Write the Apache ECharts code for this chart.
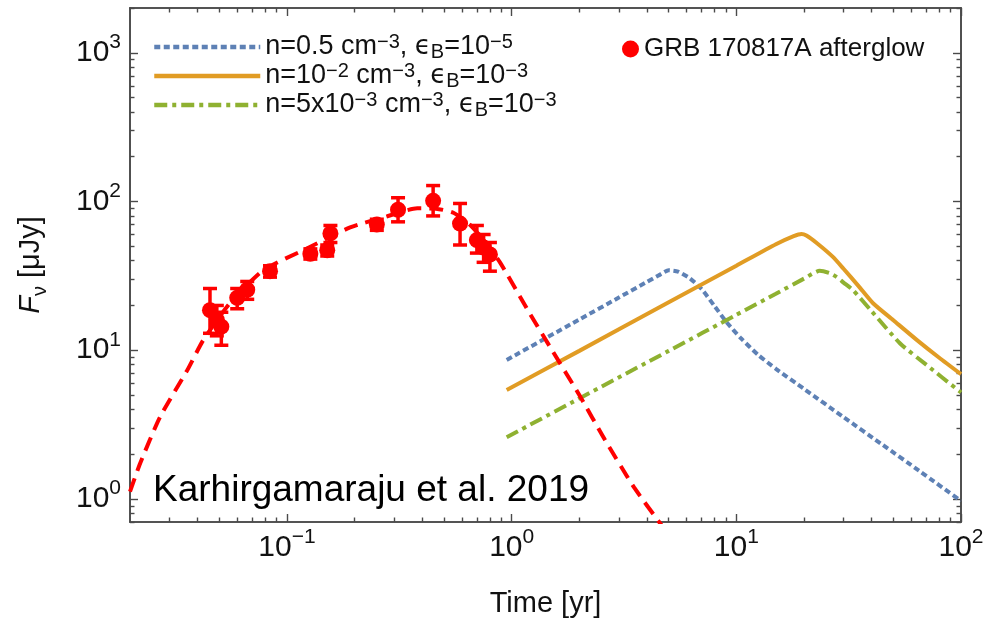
<!DOCTYPE html>
<html><head><meta charset="utf-8">
<script src="https://cdn.jsdelivr.net/npm/echarts@6/dist/echarts.min.js"></script>
<style>html,body{margin:0;padding:0;background:#fff}#c{width:997px;height:621px}</style>
</head><body><div id="c"></div>
<script>
// ---------------- data ----------------
// axis ranges (years, microJansky)
const xRange = [0.02, 100];
const yRange = [0.7, 2000];
// tick positions and labels (exponents of 10)
const xMajorTicks = [0.1, 1, 10, 100];
const xTickExponents = [-1, 0, 1, 2];
const yMajorTicks = [1, 10, 100, 1000];
const yTickExponents = [0, 1, 2, 3];
const xMinorTicks = [0.03,0.04,0.05,0.06,0.07,0.08,0.09,0.2,0.3,0.4,0.5,0.6,0.7,0.8,0.9,2,3,4,5,6,7,8,9,20,30,40,50,60,70,80,90];
const yMinorTicks = [0.7,0.8,0.9,2,3,4,5,6,7,8,9,20,30,40,50,60,70,80,90,200,300,400,500,600,700,800,900,2000];

// series names
const seriesNames = ['n=0.5 cm-3, eB=1e-5', 'n=1e-2 cm-3, eB=1e-3', 'n=5e-3 cm-3, eB=1e-3', 'GRB 170817A afterglow'];

// GRB 170817A model fit (red dashed)
const fitT = [0.02, 0.0222, 0.0272, 0.0359, 0.0424, 0.0558, 0.0783, 0.118, 0.191, 0.268, 0.38, 0.46, 0.55, 0.65, 0.75, 0.887, 1.17, 1.5, 2.0, 2.6, 3.5, 4.7];
const fitF = [1.12, 1.74, 3.55, 7.3, 11.7, 20.8, 34.5, 47, 67, 78, 90, 89.5, 84, 70, 55, 39, 19, 10.2, 5.0, 2.5, 1.2, 0.65];

// n = 0.5 cm^-3, eps_B = 1e-5 (blue dotted)
const blueT = [0.95, 2, 3, 4, 4.5, 5.0, 5.5, 6.2, 7, 8, 9, 10.5, 12.5, 15, 20, 30, 45, 65, 100];
const blueF = [8.6, 16.1, 22.6, 28.8, 31.8, 34.5, 33.8, 30.5, 25.8, 19.8, 15.6, 12.0, 9.3, 7.5, 5.5, 3.55, 2.3, 1.55, 0.97];

// n = 1e-2 cm^-3, eps_B = 1e-3 (orange solid)
const orangeT = [0.95, 2, 5, 10, 15, 18, 19.5, 20.5, 23, 26.9, 30, 35, 40.6, 50, 63.7, 80, 100];
const orangeF = [5.4, 9.9, 21.0, 37.0, 51.6, 58.5, 60.5, 59, 52, 42.4, 35.3, 27, 20.7, 15.9, 11.7, 8.9, 6.9];

// n = 5e-3 cm^-3, eps_B = 1e-3 (green dash-dot)
const greenT = [0.95, 2, 5, 10, 15, 20, 23.5, 26, 28, 30, 33, 40, 53.6, 70, 100];
const greenF = [2.6, 4.74, 9.9, 17.3, 24.0, 30.3, 34.2, 33, 31, 28.5, 25.4, 18.3, 11.1, 8.0, 5.2];

// observed afterglow points with error bars
const obsT  = [0.0454, 0.0487, 0.051, 0.060, 0.0665, 0.084, 0.127, 0.151, 0.156, 0.251, 0.312, 0.447, 0.589, 0.70, 0.75, 0.80];
const obsF  = [18.6, 16.0, 14.4, 22.5, 25.5, 34.0, 44.5, 47.0, 61.0, 70.0, 88.0, 101.0, 71.0, 55.0, 49.0, 44.0];
const obsLo = [13, 12.5, 10.8, 19, 22, 31, 41, 43, 53, 64, 73, 80, 51, 45, 39, 34];
const obsHi = [26, 20, 18, 26, 29, 37, 48, 51, 69, 76, 106, 128, 97, 69, 60, 53];

const annotation = 'Karhirgamaraju et al. 2019';

// ---------------- build chart ----------------
const L = Math.log10;
const FONT = '"Liberation Sans", Arial, sans-serif';
const pairs = (t, f) => t.map((v, i) => [L(v), L(f[i])]);

const legendRich = {
  t:   {fontFamily: FONT, fontSize: 27, color: '#111', lineHeight: 30, verticalAlign: 'middle'},
  sup: {fontFamily: FONT, fontSize: 20, color: '#111', verticalAlign: 'top'},
  sub: {fontFamily: FONT, fontSize: 20, color: '#111', verticalAlign: 'bottom'},
  e:   {fontFamily: '"DejaVu Sans", ' + FONT, fontSize: 26, color: '#111', lineHeight: 30, verticalAlign: 'middle'}
};
const legendText = {};
legendText[seriesNames[0]] = '{t|n=0.5 cm}{sup|−3}{t|, }{e|ϵ}{sub|B}{t|=10}{sup|−5}';
legendText[seriesNames[1]] = '{t|n=10}{sup|−2}{t| cm}{sup|−3}{t|, }{e|ϵ}{sub|B}{t|=10}{sup|−3}';
legendText[seriesNames[2]] = '{t|n=5x10}{sup|−3}{t| cm}{sup|−3}{t|, }{e|ϵ}{sub|B}{t|=10}{sup|−3}';

const tickRich = {
  b: {fontFamily: FONT, fontSize: 30, color: '#111', lineHeight: 42, verticalAlign: 'middle'},
  s: {fontFamily: FONT, fontSize: 21, color: '#111', verticalAlign: 'top'}
};
const expLabel = (exps, majors) => v => {
  let best = 0, bd = 1e9;
  majors.forEach((m, i) => { const d = Math.abs(L(m) - v); if (d < bd) { bd = d; best = i; } });
  const e = exps[best];
  return '{b|10}{s|' + (e < 0 ? '−' + (-e) : e) + '}';
};

const axisColor = '#4a4a4a';
const grid = {left: 130, right: 36, top: 8, bottom: 99, outerBoundsMode: 'none', containLabel: false};

function mkX(gi, pos, ticks, len, labels) {
  return {
    type: 'value', gridIndex: gi, position: pos, min: L(xRange[0]), max: L(xRange[1]),
    splitLine: {show: false},
    axisLine: {show: true, onZero: false, lineStyle: {color: axisColor, width: 1.6}},
    axisTick: {show: true, inside: true, length: len, customValues: ticks.map(L), lineStyle: {color: axisColor, width: 1.4}},
    axisLabel: labels ? {show: true, customValues: xMajorTicks.map(L), margin: 5, formatter: expLabel(xTickExponents, xMajorTicks), rich: tickRich, showMinLabel: true, showMaxLabel: true} : {show: false},
    name: labels ? 'Time [yr]' : '', nameLocation: 'middle', nameGap: 67,
    nameTextStyle: {fontFamily: FONT, fontSize: 29, color: '#111'}
  };
}
function mkY(gi, pos, ticks, len, labels) {
  return {
    type: 'value', gridIndex: gi, position: pos, min: L(yRange[0]), max: L(yRange[1]),
    splitLine: {show: false},
    axisLine: {show: true, onZero: false, lineStyle: {color: axisColor, width: 1.6}},
    axisTick: {show: true, inside: true, length: len, customValues: ticks.map(L), lineStyle: {color: axisColor, width: 1.4}},
    axisLabel: labels ? {show: true, customValues: yMajorTicks.map(L), margin: 9, formatter: expLabel(yTickExponents, yMajorTicks), rich: tickRich, showMinLabel: true, showMaxLabel: true} : {show: false},
    name: labels ? '{i|F}{sub|ν}{t| [μJy]}' : '', nameLocation: 'middle', nameGap: 80,
    nameTextStyle: {fontFamily: FONT, fontSize: 29, color: '#111', rich: {
      i: {fontFamily: FONT, fontSize: 29, fontStyle: 'italic', color: '#111', lineHeight: 38, verticalAlign: 'middle'},
      sub: {fontFamily: FONT, fontSize: 20, color: '#111', verticalAlign: 'bottom'},
      t: {fontFamily: FONT, fontSize: 29, color: '#111', lineHeight: 38, verticalAlign: 'middle'}
    }}
  };
}

const errData = obsT.map((t, i) => [L(t), L(obsLo[i]), L(obsHi[i])]);

const lineLegendItem = (name, type) => ({
  name: name, itemStyle: {opacity: 0}, lineStyle: {width: 4.5, type: type}
});

const option = {
  animation: false,
  backgroundColor: '#ffffff',
  grid: [grid, Object.assign({}, grid)],
  xAxis: [
    mkX(0, 'bottom', xMajorTicks, 8, true),
    mkX(0, 'top', xMajorTicks, 8, false),
    mkX(1, 'bottom', xMinorTicks, 4.5, false),
    mkX(1, 'top', xMinorTicks, 4.5, false)
  ],
  yAxis: [
    mkY(0, 'left', yMajorTicks, 8, true),
    mkY(0, 'right', yMajorTicks, 8, false),
    mkY(1, 'left', yMinorTicks, 4.5, false),
    mkY(1, 'right', yMinorTicks, 4.5, false)
  ],
  title: {
    text: annotation, left: 153, top: 472, padding: 0,
    textStyle: {fontFamily: FONT, fontSize: 37, fontWeight: 'normal', color: '#000'}
  },
  legend: [
    {
      data: [
        lineLegendItem(seriesNames[0], [6, 3.5]),
        lineLegendItem(seriesNames[1], 'solid'),
        lineLegendItem(seriesNames[2], [13, 5, 4, 5])
      ],
      orient: 'vertical', left: 152, top: 32, padding: 0,
      itemWidth: 106, itemHeight: 12, itemGap: -1, selectedMode: false,
      lineStyle: {width: 4.5},
      formatter: n => legendText[n],
      textStyle: {fontFamily: FONT, fontSize: 27, color: '#111', rich: legendRich}
    },
    {
      data: [seriesNames[3]], left: 622, top: 36, padding: 0, icon: 'circle',
      itemWidth: 17, itemHeight: 17, selectedMode: false,
      itemStyle: {opacity: 1},
      textStyle: {fontFamily: FONT, fontSize: 26, color: '#111'}
    }
  ],
  series: [
    {
      name: 'fit', type: 'line', data: pairs(fitT, fitF), symbol: 'none', smooth: 0.2, z: 3,
      lineStyle: {color: '#ff0000', width: 4, type: [14, 8]}, silent: true
    },
    {
      name: seriesNames[0], type: 'line', data: pairs(blueT, blueF), symbol: 'none', smooth: 0.2, z: 2,
      color: '#5e81b5', lineStyle: {color: '#5e81b5', width: 4, type: [6, 3.5]}
    },
    {
      name: seriesNames[1], type: 'line', data: pairs(orangeT, orangeF), symbol: 'none', smooth: 0.2, z: 2,
      color: '#e19c24', lineStyle: {color: '#e19c24', width: 4}
    },
    {
      name: seriesNames[2], type: 'line', data: pairs(greenT, greenF), symbol: 'none', smooth: 0.2, z: 2,
      color: '#8fb131', lineStyle: {color: '#8fb131', width: 4, type: [13, 5, 4, 5]}
    },
    {
      name: 'errors', type: 'custom', data: errData, z: 4, silent: true,
      encode: {x: 0, y: [1, 2]},
      renderItem: (params, api) => {
        const x = api.value(0), lo = api.value(1), hi = api.value(2);
        const p1 = api.coord([x, hi]), p2 = api.coord([x, lo]);
        const w = 7;
        const st = {stroke: '#ff0000', lineWidth: 3.5, fill: null};
        return {type: 'group', children: [
          {type: 'line', shape: {x1: p1[0], y1: p1[1], x2: p2[0], y2: p2[1]}, style: st},
          {type: 'line', shape: {x1: p1[0] - w, y1: p1[1], x2: p1[0] + w, y2: p1[1]}, style: st},
          {type: 'line', shape: {x1: p2[0] - w, y1: p2[1], x2: p2[0] + w, y2: p2[1]}, style: st}
        ]};
      }
    },
    {
      name: seriesNames[3], type: 'scatter', data: pairs(obsT, obsF), symbol: 'circle', symbolSize: 16, z: 5,
      color: '#ff0000', itemStyle: {color: '#ff0000', opacity: 1}
    }
  ]
};

const chart = echarts.init(document.getElementById('c'), null, {renderer: 'canvas'});
chart.setOption(option);
</script>
</body></html>
